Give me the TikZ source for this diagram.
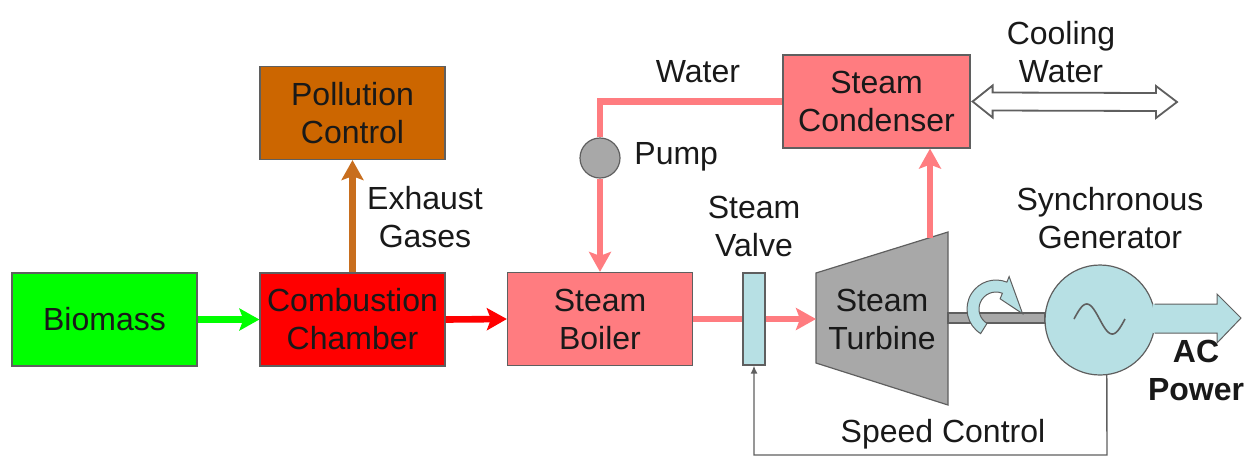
\documentclass[tikz,border=0pt]{standalone}
\usepackage{fontspec}
\setmainfont{Liberation Sans}
\usetikzlibrary{arrows.meta,calc}
\definecolor{bgreen}{RGB}{0,255,0}
\definecolor{cred}{RGB}{255,0,0}
\definecolor{spink}{RGB}{255,124,128}
\definecolor{pbrown}{RGB}{204,102,0}
\definecolor{abrown}{RGB}{200,110,30}
\definecolor{lblue}{RGB}{183,224,228}
\definecolor{tgray}{RGB}{168,168,168}
\definecolor{bgray}{RGB}{95,95,95}
\definecolor{txt}{RGB}{25,25,25}
\begin{document}
\begin{tikzpicture}[x=0.5pt,y=-0.5pt,
  font=\fontsize{16}{19}\selectfont, text=txt,
  box/.style={draw=bgray, line width=0.6pt, minimum width=92.5pt, minimum height=46.5pt,
    align=center, inner sep=0pt},
  lbl/.style={align=center, inner sep=0pt},
  flow/.style={line width=3.3pt, -{Stealth[width=11pt,length=10pt,inset=2pt]}},
  pipe/.style={line width=3.3pt, color=spink},
  ctrl/.style={draw=bgray, line width=0.7pt}]
\useasboundingbox (0,0) rectangle (1252,457);

% boxes
\node[box, fill=bgreen] (bio) at (104.5,319.5) {Biomass};
\node[box, fill=cred] (comb) at (352.5,319.5) {Combustion\\Chamber};
\node[box, fill=spink] (boil) at (600,319) {Steam\\Boiler};
\node[box, fill=pbrown] (poll) at (352.5,113) {Pollution\\Control};
\node[box, fill=spink, minimum width=93.5pt] (cond) at (876.5,101.5) {Steam\\Condenser};
\node[draw=bgray, line width=0.6pt, fill=lblue, minimum width=11pt, minimum height=46pt, inner sep=0pt] (valve) at (754,319) {};
\node[circle, draw=bgray, line width=0.6pt, fill=tgray, minimum size=20pt, inner sep=0pt] (pump) at (600,158) {};

% turbine
\draw[draw=bgray, line width=0.6pt, fill=tgray] (816,273) -- (948,232) -- (948,405) -- (816,363) -- cycle;
\coordinate (tin) at (816,319);
\coordinate (tout) at (930,237.6);
\coordinate (shaftL) at (948,318);
\node[lbl] (turb) at (882,319) {Steam\\Turbine};

% generator
\node[circle, draw=bgray, line width=0.6pt, fill=lblue, minimum size=55pt, inner sep=0pt] (gen) at (1100,320) {};
\draw[bgray, line width=0.8pt] plot[domain=0:360, samples=60, smooth] ({1074+\x/360*51},{319-15*sin(\x)});

% shaft
\draw[draw=bgray, line width=0.6pt, fill=tgray] ($(shaftL)+(0,-5)$) rectangle ($(gen.west)+(0,3)$);

% rotation arrow
\coordinate (rc) at (996,309);
\draw[draw=bgray, line width=0.5pt, fill=lblue]
  ($(rc)+(122:29)$) arc[start angle=122, end angle=292, radius=29]
  -- ($(rc)+(292:35)$) -- ($(rc)+(10:27)$) -- ($(rc)+(292:11)$)
  -- ($(rc)+(292:17)$) arc[start angle=292, end angle=122, radius=17] -- cycle;

% AC power arrow
\fill[lblue] (gen.east) ++(-3,-16) -- (1217,304) -- (1217,294) -- (1241,318) -- (1217,343) -- (1217,333) -- ($(gen.east)+(-3,13)$) -- cycle;
\draw[bgray, line width=0.5pt] ($(gen.east)+(-1,-16)$) -- (1217,304) -- (1217,294) -- (1241,318) -- (1217,343) -- (1217,333) -- ($(gen.east)+(-1,13)$);

% flows
\draw[flow, bgreen] (bio.east) -- (comb.west);
\draw[flow, cred] (comb.east) -- (boil.west);
\draw[flow, abrown] (comb.north) -- (poll.south);
\draw[pipe, line join=miter] (cond.west) -- (pump.north |- cond.west) -- (pump.north);
\draw[pipe, flow] (pump.south) -- (boil.north);
\draw[pipe] (boil.east) -- (valve.west);
\draw[pipe, flow] (valve.east) -- (tin);
\draw[pipe, flow] (tout) -- (cond.south -| tout);

% cooling water double arrow
\coordinate (cwl) at ($(cond.east)+(2,0)$);
\draw[draw=bgray, line width=0.9pt, fill=white]
  (cwl) -- ++(20,-16) -- ++(0,7) -- (1156,93) -- (1156,86) -- (1177,102) -- (1156,118) -- (1156,111)
  -- ($(cwl)+(20,9)$) -- ++(0,7) -- cycle;

% speed control
\coordinate (scR) at (1107,455);
\coordinate (scL) at (754,455);
\draw[ctrl, -{Latex[length=4pt,width=3.5pt]}] (gen.-83) -- (scR) -- (scL) -- (valve.south);

% labels
\node[lbl] (lexh) at (425,217) {Exhaust\\Gases};
\node[lbl] (lwat) at (698,72) {Water};
\node[lbl, anchor=west] (lpump) at (634,157) {Pump};
\node[lbl] (lval) at (754,226) {Steam\\Valve};
\node[lbl] (lcool) at (1061,52) {Cooling\\Water};
\node[lbl] (lsyn) at (1110,218) {Synchronous\\Generator};
\node[lbl, font=\fontsize{16}{19}\selectfont\bfseries] (lac) at (1196,370) {AC\\Power};
\node[lbl] (lspd) at (943,434) {Speed Control};
\end{tikzpicture}
\end{document}
